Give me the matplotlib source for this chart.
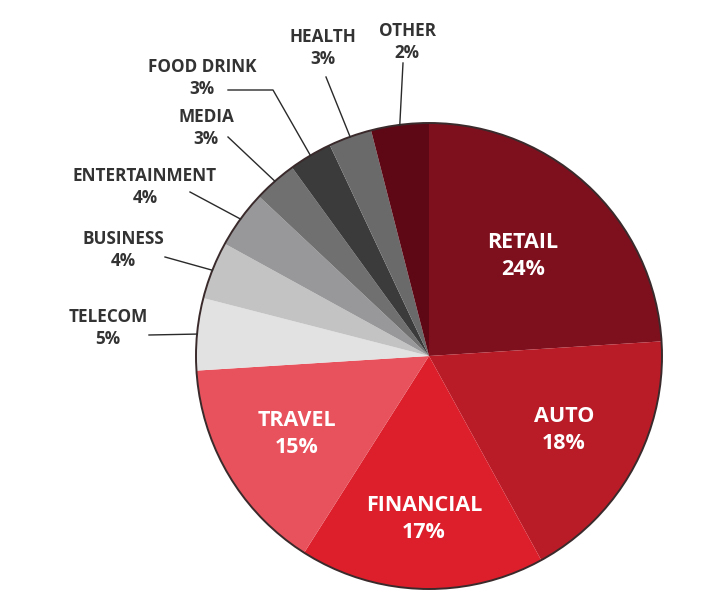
import numpy as np
import matplotlib
matplotlib.use("Agg")
import matplotlib.pyplot as plt
from matplotlib.patches import Circle

# slice sizes as drawn (OTHER is drawn wider than its 2% label)
sectors = ["RETAIL", "AUTO", "FINANCIAL", "TRAVEL", "TELECOM", "BUSINESS",
           "ENTERTAINMENT", "MEDIA", "FOOD DRINK", "HEALTH", "OTHER"]
shares = [24, 18, 17, 15, 5, 4, 4, 3, 3, 3, 4]
pct_labels = ["24%", "18%", "17%", "15%", "5%", "4%", "4%", "3%", "3%", "3%", "2%"]
colors = ["#7e101e", "#b91c27", "#dc1f2b", "#e8525c", "#e2e2e2", "#c3c3c3",
          "#98989a", "#707070", "#3b3b3b", "#6a6a6a", "#5e0815"]

W, H = 721, 614
fig = plt.figure(figsize=(W / 100, H / 100), dpi=100)
ax = fig.add_axes([0, 0, 1, 1])

cx, cy, R = 429, H - 356, 233
wedges, _ = ax.pie(shares, colors=colors, startangle=90, counterclock=False,
                   center=(cx, cy), radius=R, frame=True,
                   wedgeprops=dict(linewidth=0))
ax.set_xlim(0, W)
ax.set_ylim(0, H)
ax.set_aspect("equal")
ax.axis("off")
ax.add_patch(Circle((cx, cy), R, fill=False, edgecolor="#3a2a2c", linewidth=1.4))

font = ["Open Sans", "DejaVu Sans"]
txt_col = "#333333"

# inner labels (white), radius fraction along mid-angle
inner_r = [0.59, 0.66, 0.70, 0.66]
for i in range(4):
    w = wedges[i]
    mid = np.deg2rad((w.theta1 + w.theta2) / 2)
    x = cx + R * inner_r[i] * np.cos(mid)
    y = cy + R * inner_r[i] * np.sin(mid)
    ax.text(x, y, sectors[i] + "\n" + pct_labels[i], ha="center", va="center",
            color="white", fontsize=15.5, fontweight="bold", family=font,
            linespacing=1.35)

# outer labels: text centre (px), line start points (px, top-left origin)
outer_text = {4: (108, 328), 5: (123, 250), 6: (145, 187), 7: (206, 128),
              8: (202, 78), 9: (323, 48), 10: (407, 42)}
outer_line = {4: [(149, 335)], 5: [(165, 257)], 6: [(190, 192)],
              7: [(228, 137)], 8: [(228, 90), (273, 90)], 9: [(326, 77)],
              10: [(403, 63)]}
for i, (tx, ty) in outer_text.items():
    ax.text(tx, H - ty, sectors[i] + "\n" + pct_labels[i], ha="center",
            va="center", color=txt_col, fontsize=12.3, fontweight="bold",
            family=font, linespacing=1.25)
    w = wedges[i]
    mid = np.deg2rad((w.theta1 + w.theta2) / 2)
    ex, ey = cx + R * np.cos(mid), cy + R * np.sin(mid)
    pts = [(px, H - py) for px, py in outer_line[i]] + [(ex, ey)]
    xs, ys = zip(*pts)
    ax.plot(xs, ys, color="#2a2a2a", linewidth=1.0)

fig.savefig("out.png", dpi=100, facecolor="white")
